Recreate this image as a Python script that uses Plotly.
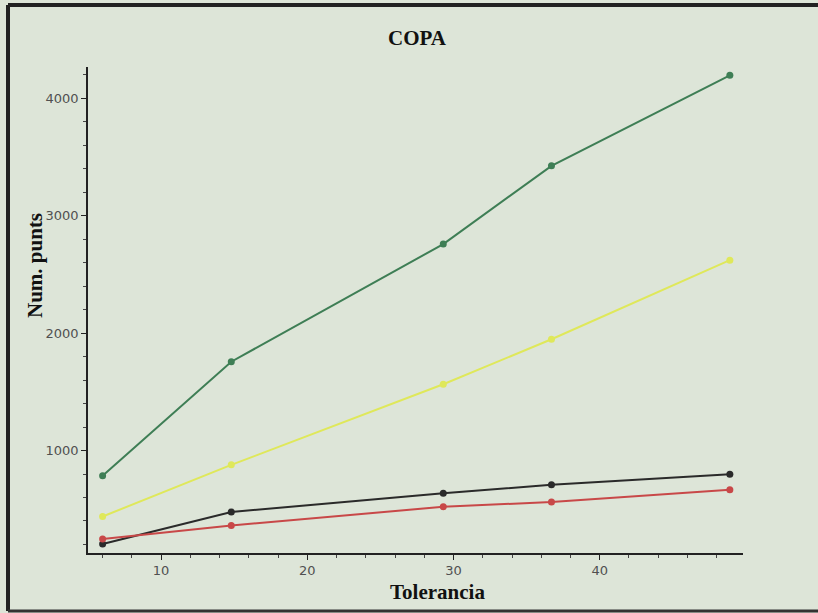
import plotly.graph_objects as go

tolerancia = [6, 14.8, 29.3, 36.7, 48.9]
serie_verda = [785, 1757, 2759, 3426, 4197]
serie_groga = [438, 878, 1565, 1948, 2622]
serie_negra = [203, 476, 637, 708, 799]
serie_vermella = [246, 362, 521, 561, 666]

series = [
    ("verda", serie_verda, "#3e7e55"),
    ("groga", serie_groga, "#dfe85a"),
    ("negra", serie_negra, "#2a2a2a"),
    ("vermella", serie_vermella, "#c84848"),
]

W, H = 818, 613
L, R, T, B = 88, 75, 67, 60
PW, PH = W - L - R, H - T - B


def px(x):
    return (x - L) / PW


def py(y):
    return (H - B - y) / PH


fig = go.Figure()
for name, vals, col in series:
    fig.add_trace(go.Scatter(
        x=tolerancia, y=vals, mode="lines+markers", name=name,
        line=dict(color=col, width=2),
        marker=dict(color=col, size=7),
        showlegend=False,
    ))

bg = "#dde5d8"
fig.update_layout(
    width=W, height=H,
    paper_bgcolor=bg, plot_bgcolor=bg,
    margin=dict(l=L, r=R, t=T, b=B, autoexpand=False),
    xaxis=dict(
        range=[5, 49.8], showgrid=False, zeroline=False, automargin=False,
        showline=True, linecolor="#222", linewidth=1.5,
        tickmode="array", tickvals=[10, 20, 30, 40],
        ticks="outside", ticklen=5, tickcolor="#222",
        minor=dict(dtick=2, tick0=0, ticks="outside", ticklen=3, tickcolor="#444"),
        tickfont=dict(family="DejaVu Sans", size=13, color="#505050"),
    ),
    yaxis=dict(
        range=[127, 4268], showgrid=False, zeroline=False, automargin=False,
        showline=True, linecolor="#222", linewidth=1.5,
        tickmode="array", tickvals=[1000, 2000, 3000, 4000],
        ticks="outside", ticklen=5, tickcolor="#222",
        minor=dict(dtick=200, tick0=0, ticks="outside", ticklen=3, tickcolor="#444"),
        tickfont=dict(family="DejaVu Sans", size=13, color="#505050"),
    ),
)

txt_font = dict(family="Liberation Serif", size=21, color="#111")
fig.add_annotation(text="<b>COPA</b>", xref="paper", yref="paper",
                   x=px(418), y=py(38), showarrow=False, font=txt_font,
                   xanchor="center", yanchor="middle")
fig.add_annotation(text="<b>Tolerancia</b>", xref="paper", yref="paper",
                   x=px(437), y=py(592), showarrow=False, font=txt_font,
                   xanchor="center", yanchor="middle")
fig.add_annotation(text="<b>Num. punts</b>", xref="paper", yref="paper",
                   x=px(35), y=py(266), showarrow=False, font=txt_font,
                   textangle=-90, xanchor="center", yanchor="middle")

# decorative page frame (left, top, bottom)
fig.add_shape(type="line", xref="paper", yref="paper",
              x0=px(8), x1=px(8), y0=py(611), y1=py(5),
              line=dict(color="#222", width=4))
fig.add_shape(type="line", xref="paper", yref="paper",
              x0=px(8), x1=px(818), y0=py(5), y1=py(5),
              line=dict(color="#222", width=4))
fig.add_shape(type="line", xref="paper", yref="paper",
              x0=px(8), x1=px(818), y0=py(611), y1=py(611),
              line=dict(color="#333", width=3))

fig.write_html(
    "out.html",
    config={"displayModeBar": False},
    post_script="document.body.style.margin='0';document.body.style.background='%s';" % bg,
)
